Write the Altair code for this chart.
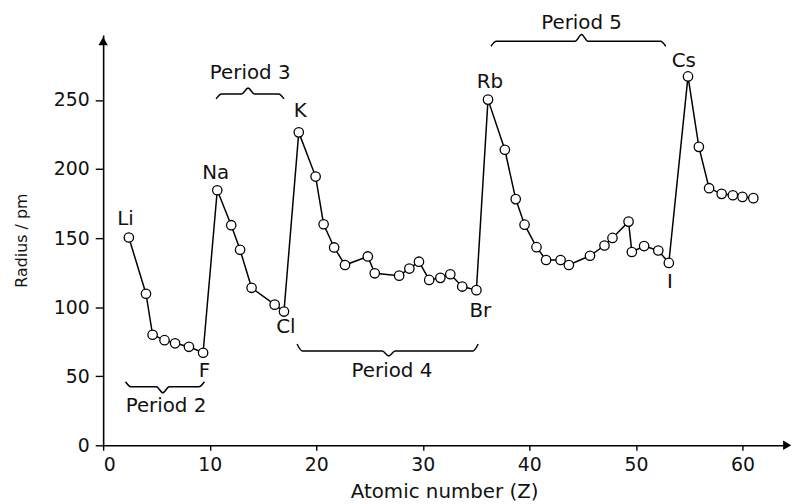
import altair as alt
import pandas as pd

# ---- data ----
z = [2.41, 4.02, 4.64, 5.76, 6.75, 8.05, 9.38,
     10.71, 12.02, 12.85, 13.93, 16.1, 16.97,
     18.36, 19.94, 20.69, 21.68, 22.7, 24.84, 25.49, 27.78, 28.74, 29.64, 30.6, 31.65, 32.58, 33.7, 35.03,
     36.12, 37.7, 38.72, 39.55, 40.67, 41.57, 42.93, 43.71, 45.69, 47.05, 47.8, 49.31, 49.62, 50.77, 52.1, 53.09,
     54.89, 55.91, 56.87, 58.05, 59.1, 60.0, 61.02]
radius = [150.4, 109.7, 80, 76.1, 73.8, 71.3, 67,
          184.6, 159.3, 141.5, 114, 101.8, 96.8,
          226.5, 194.5, 160, 143.2, 130.5, 136.7, 124.5, 122.8, 127.9, 132.9, 119.7, 121.2, 123.8, 114.9, 112.3,
          250.2, 213.9, 178.2, 159.7, 143.4, 134.1, 134.1, 130.5, 137.2, 144.6, 150.1, 161.9, 139.9, 144.2, 141, 132,
          267, 216, 186.1, 182, 181, 179.8, 178.9]

elem_names = ["Li", "Na", "F", "Cl", "K", "Br", "Rb", "I", "Cs"]
elem_x = [2.1, 10.56, 9.5, 17.15, 18.5, 35.4, 36.3, 53.2, 54.5]
elem_y = [163.8, 196.8, 53.9, 85.5, 242, 97, 263, 118.5, 278]

period_names = ["Period 2", "Period 3", "Period 4", "Period 5"]
period_start = [2.1, 10.6, 18.2, 36.4]
period_end = [9.5, 16.97, 35.2, 52.8]
period_tip_x = [5.6, 13.6, 26.8, 44.9]
period_line_y = [42.4, 254.3, 68.2, 292.4]
period_end_y = [46.0, 250.7, 73.3, 288.8]
period_tip_y = [38.0, 258.6, 64.7, 297.4]
period_label_x = [5.9, 13.8, 27.1, 44.9]
period_label_y = [28.7, 269.4, 53.9, 305.3]

x_ticks = [0, 10, 20, 30, 40, 50, 60]
y_ticks = [0, 50, 100, 150, 200, 250]

FONT = "DejaVu Sans"

df = pd.DataFrame({"z": z, "r": radius})
df_lab = pd.DataFrame({"name": elem_names, "x": elem_x, "y": elem_y})

# brace paths
rows = []
for i, name in enumerate(period_names):
    a, b, m = period_start[i], period_end[i], period_tip_x[i]
    y0, ye, yt = period_line_y[i], period_end_y[i], period_tip_y[i]
    pts = [(a, ye), (a + 0.5, y0), (m - 0.6, y0), (m, yt), (m + 0.6, y0), (b - 0.5, y0), (b, ye)]
    for k, (px, py) in enumerate(pts):
        rows.append({"g": name, "o": k, "x": px, "y": py})
df_br = pd.DataFrame(rows)
df_plab = pd.DataFrame({"name": period_names, "x": period_label_x, "y": period_label_y})

xs = alt.Scale(domain=[0, 64], nice=False, zero=False)
ys = alt.Scale(domain=[0, 297], nice=False, zero=False)

base = alt.Chart(df)

line = base.mark_line(color="black", strokeWidth=1.5).encode(
    x=alt.X("z:Q", scale=xs, title="Atomic number (Z)",
            axis=alt.Axis(values=x_ticks, grid=False, tickSize=5, labelPadding=5,
                          titlePadding=8, titleFontSize=20, labelFontSize=19,
                          domainWidth=1.6, format="d")),
    y=alt.Y("r:Q", scale=ys, title="Radius / pm",
            axis=alt.Axis(values=y_ticks, grid=False, tickSize=8, labelPadding=6,
                          titlePadding=24, titleFontSize=16, labelFontSize=19,
                          domainWidth=1.6, format="d")),
)
pts = base.mark_point(shape="circle", size=90, filled=True, fill="white",
                      stroke="black", strokeWidth=1.3, opacity=1).encode(
    x=alt.X("z:Q", scale=xs), y=alt.Y("r:Q", scale=ys))

labels = alt.Chart(df_lab).mark_text(font=FONT, fontSize=20, color="#111").encode(
    x=alt.X("x:Q", scale=xs), y=alt.Y("y:Q", scale=ys), text="name:N")

braces = alt.Chart(df_br).mark_line(color="black", strokeWidth=1.5, interpolate="monotone").encode(
    x=alt.X("x:Q", scale=xs), y=alt.Y("y:Q", scale=ys), detail="g:N", order="o:Q")

plabels = alt.Chart(df_plab).mark_text(font=FONT, fontSize=20, color="#111").encode(
    x=alt.X("x:Q", scale=xs), y=alt.Y("y:Q", scale=ys), text="name:N")

# axis arrow heads (at the ends of the axis lines)
arrow_x = alt.Chart(pd.DataFrame({"x": [64.2], "y": [0]})).mark_point(
    shape="triangle-right", size=90, filled=True, color="black", opacity=1).encode(
    x=alt.X("x:Q", scale=xs), y=alt.Y("y:Q", scale=ys))
arrow_y = alt.Chart(pd.DataFrame({"x": [0], "y": [292.5]})).mark_point(
    shape="triangle-up", size=90, filled=True, color="black", opacity=1).encode(
    x=alt.X("x:Q", scale=xs), y=alt.Y("y:Q", scale=ys))

chart = alt.layer(line, pts, labels, braces, plabels, arrow_x, arrow_y).properties(
    width=688, height=414,
    autosize=alt.AutoSizeParams(type="none"),
    padding={"left": 96, "top": 25, "right": 8, "bottom": 55},
).configure_view(stroke=None).configure_axis(
    domainColor="black", tickColor="black", tickWidth=1.4,
    labelFont=FONT, labelColor="#111",
    titleFont=FONT, titleFontWeight="normal", titleColor="#111",
)

chart.save("out.html", embed_options={"renderer": "svg", "actions": False})
